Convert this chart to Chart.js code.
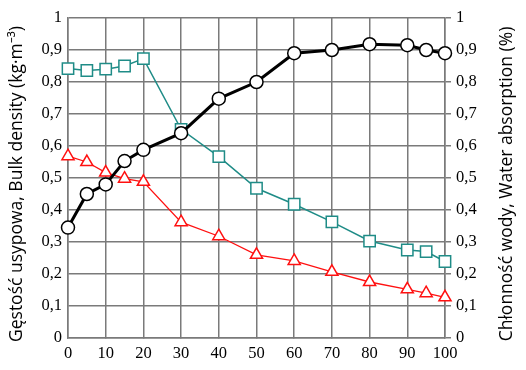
<!DOCTYPE html>
<html>
<head>
<meta charset="utf-8">
<script src="https://cdn.jsdelivr.net/npm/chart.js@4"></script>
<style>
  html, body { margin: 0; padding: 0; background: #fff; }
  #wrap { width: 526px; height: 370px; }
</style>
</head>
<body>
<div id="wrap"><canvas id="chart" width="526" height="370"></canvas></div>
<script>
// data
const xValues = [0, 5, 10, 15, 20, 30, 40, 50, 60, 70, 80, 90, 95, 100];
const bulkDensity = [0.345, 0.45, 0.48, 0.553, 0.588, 0.64, 0.748, 0.80, 0.89, 0.90, 0.918, 0.915, 0.90, 0.89];
const squareSeries = [0.842, 0.836, 0.84, 0.85, 0.873, 0.652, 0.567, 0.468, 0.418, 0.363, 0.303, 0.275, 0.27, 0.239];
const triangleSeries = [0.568, 0.55, 0.517, 0.498, 0.488, 0.362, 0.318, 0.26, 0.241, 0.207, 0.175, 0.152, 0.14, 0.127];
const leftTitle = "Gęstość usypowa, Bulk density (kg·m⁻³)";
const rightTitle = "Chłonność wody, Water absorption (%)";

function pts(ys) {
	return xValues.map((x, i) => ({ x: x, y: ys[i] }));
}

function fmt(v) {
	let r = Math.round(v * 10) / 10;
	if (r === 0 || r === 1) return String(r);
	return r.toFixed(1).replace(".", ",");
}

const gridColor = "#7a7a7a";
const tickFont = { family: "Liberation Serif", size: 16.5 };
const teal = "#1f8c87";

const sideTitles = {
	id: "sideTitles",
	afterDraw(chart) {
		let ctx = chart.ctx;
		let a = chart.chartArea;
		let cy = (a.top + a.bottom) / 2;
		[[17, leftTitle], [507, rightTitle]].forEach(([x, text]) => {
			ctx.save();
			ctx.fillStyle = "#000";
			ctx.font = "17.5px 'Open Sans'";
			ctx.textAlign = "center";
			ctx.textBaseline = "middle";
			ctx.translate(x, cy + 6);
			ctx.rotate(-Math.PI / 2);
			ctx.fillText(text, 0, 0);
			ctx.restore();
		});
	}
};

let ctx = document.getElementById("chart").getContext("2d");
let chart = new Chart(ctx, {
	type: "line",
	data: {
		datasets: [{
			data: pts(bulkDensity),
			borderColor: "#000",
			borderWidth: 3,
			pointStyle: "circle",
			pointRadius: 6.5,
			pointBorderWidth: 1.5,
			pointBorderColor: "#000",
			pointBackgroundColor: "#fff",
			yAxisID: "y",
			order: 0,
			clip: false
		}, {
			data: pts(squareSeries),
			borderColor: teal,
			borderWidth: 1.5,
			pointStyle: "rect",
			pointRadius: 8,
			pointBorderWidth: 1.5,
			pointBorderColor: teal,
			pointBackgroundColor: "#fff",
			yAxisID: "y2",
			order: 1,
			clip: false
		}, {
			data: pts(triangleSeries),
			borderColor: "#ff1010",
			borderWidth: 1.3,
			pointStyle: "triangle",
			pointRadius: 7,
			pointBorderWidth: 1.5,
			pointBorderColor: "#ff1010",
			pointBackgroundColor: "#fff",
			yAxisID: "y2",
			order: 2,
			clip: false
		}]
	},
	options: {
		responsive: false,
		animation: false,
		layout: { padding: { top: 18, left: 0, right: 0, bottom: 0 } },
		plugins: { legend: { display: false }, tooltip: { enabled: false } },
		scales: {
			x: {
				type: "linear",
				min: 0,
				max: 100,
				ticks: { stepSize: 10, color: "#000", font: tickFont, padding: 6, maxRotation: 0 },
				grid: { color: gridColor, lineWidth: 1.5, tickLength: 0 },
				border: { color: gridColor, width: 1.5 },
				afterFit(s) { s.height = 32; }
			},
			y: {
				position: "left",
				min: 0,
				max: 1,
				ticks: { stepSize: 0.1, color: "#000", font: tickFont, padding: 6, callback: fmt },
				grid: { color: gridColor, lineWidth: 1.5, tickLength: 0 },
				border: { color: gridColor, width: 1.5 },
				afterFit(s) { s.width = 68; }
			},
			y2: {
				position: "right",
				min: 0,
				max: 1,
				ticks: { stepSize: 0.1, color: "#000", font: tickFont, padding: 5, callback: fmt },
				grid: { drawOnChartArea: false, color: gridColor, lineWidth: 1.5, tickLength: 6 },
				border: { color: gridColor, width: 1.5 },
				afterFit(s) { s.width = 81; }
			}
		}
	},
	plugins: [sideTitles]
});
</script>
</body>
</html>
